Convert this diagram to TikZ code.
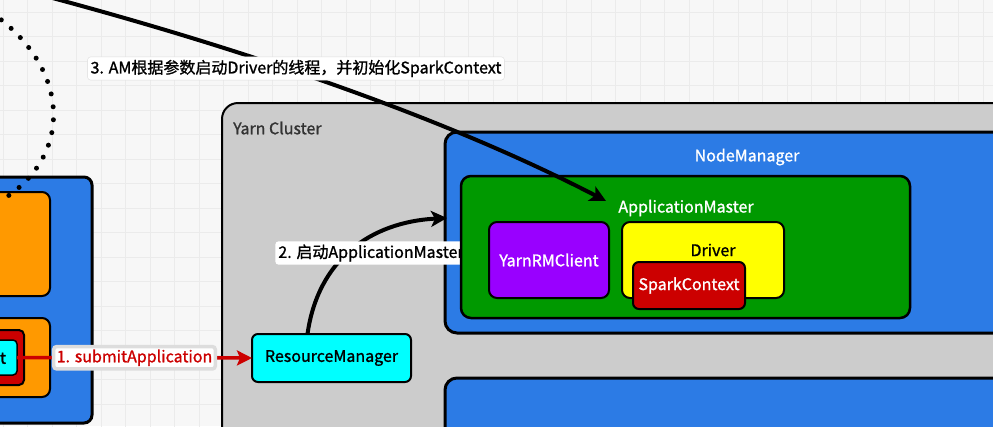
\documentclass[tikz,border=0pt]{standalone}
\usepackage{fontspec}
\setmainfont{Noto Sans CJK SC}[BoldFont=*, BoldFeatures={FakeBold=1.2}]
\usetikzlibrary{arrows.meta}
\definecolor{bgc}{HTML}{F7F7F7}
\definecolor{gridc}{HTML}{EBEBEB}
\definecolor{bluec}{HTML}{2C7BE5}
\definecolor{greenc}{HTML}{009900}
\definecolor{purplec}{HTML}{9900FF}
\definecolor{yellowc}{HTML}{FFFF00}
\definecolor{redc}{HTML}{CC0000}
\definecolor{cyanc}{HTML}{00FFFF}
\definecolor{orangec}{HTML}{FF9900}
\definecolor{grayc}{HTML}{CCCCCC}
\definecolor{labelborder}{HTML}{DDDDDD}
\definecolor{darktext}{HTML}{333333}
\tikzset{
  box/.style={draw=black, rounded corners=8pt, inner sep=0pt, outer sep=0pt},
  txt/.style={font=\fontsize{16}{19}\selectfont\bfseries, inner sep=0pt},
  edgelabel/.style={fill=white, draw=labelborder, rounded corners=3pt, inner sep=3pt, font=\fontsize{16}{19}\selectfont\bfseries},
  thickarrow/.style={line width=4pt, -{Stealth[length=16pt,width=16pt,inset=4pt]}},
}
\begin{document}
\begin{tikzpicture}[x=1pt,y=-1pt]
\useasboundingbox (0,0) rectangle (993,426);
\clip (0,0) rectangle (993,426);
% background
\fill[bgc] (0,0) rectangle (993,426);
\draw[gridc, line width=1pt, xshift=3pt, yshift=-12pt] (-24.5,-24.5) grid[step=24.5pt] (1020,450);

% left client host
\node[box, fill=bluec, line width=3pt, minimum width=140pt, minimum height=246pt] (host) at (22,300) {};
\node[box, fill=orangec, line width=2pt, minimum width=90pt, minimum height=104pt] (orangeA) at (5,244) {};
\node[box, fill=orangec, line width=2pt, minimum width=90pt, minimum height=79pt] (orangeB) at (5,357.5) {};
\node[box, fill=redc, line width=2pt, minimum width=60pt, minimum height=55pt, rounded corners=5pt] (redbox) at (-6,357.5) {};
\node[box, fill=cyanc, line width=1.5pt, minimum height=35pt, rounded corners=4pt, anchor=east, txt, inner xsep=11pt] (client) at (17,357.5) {Client};

% dotted curve
\coordinate (dotstart) at (-20,5);
\coordinate (dotend) at (8,196);
\draw[line width=5pt, dash pattern=on 0pt off 13pt, line cap=round] (dotstart) .. controls (70,60) and (75,150) .. (dotend);

% Yarn cluster
\node[box, fill=grayc, line width=2pt, rounded corners=16pt, minimum width=880pt, minimum height=400pt] (yarn) at (662,303) {};
\node[txt, anchor=west, text=darktext] (yarnlabel) at (233,128) {Yarn Cluster};

% NodeManagers
\node[box, fill=bluec, line width=3pt, rounded corners=12pt, minimum width=640pt, minimum height=201pt] (nm) at (765,232.5) {};
\node[txt, text=white] (nmlabel) at (747,157) {NodeManager};
\node[box, fill=bluec, line width=3pt, rounded corners=12pt, minimum width=640pt, minimum height=150pt] (nm2) at (765,453) {};

% ResourceManager
\node[box, fill=cyanc, line width=2pt, rounded corners=6pt, minimum width=159pt, minimum height=48pt, txt] (rm) at (331.5,358) {ResourceManager};

% arrow 2
\coordinate (amentry) at (447,218);
\draw[thickarrow] ([xshift=-24pt]rm.north) .. controls (318,260) and (370,222) .. (amentry);
\node[edgelabel, draw=none, inner sep=3pt] (lbl2) at (371,253) {2. 启动ApplicationMaster};

% ApplicationMaster
\node[box, fill=greenc, line width=2.5pt, rounded corners=10pt, minimum width=449pt, minimum height=142pt] (am) at (685.5,247) {};
\node[txt, text=white] (amlabel) at (686,208) {ApplicationMaster};
\node[box, fill=purplec, line width=2pt, minimum width=120pt, minimum height=76pt, txt, text=white] (yrm) at (549,260) {YarnRMClient};
\node[box, fill=yellowc, line width=2pt, minimum width=162pt, minimum height=76pt] (driver) at (703,260) {};
\node[txt] (driverlabel) at (713,250) {Driver};
\node[box, fill=redc, line width=2pt, rounded corners=6pt, minimum width=112pt, minimum height=47pt, txt, text=white] (sc) at (689,285.5) {SparkContext};

% arrow 1
\draw[redc, line width=3.5pt, -{Stealth[length=15pt,width=15pt,inset=3pt]}] (client.east) -- (rm.west)
  node[edgelabel, text=redc, midway] (lbl1) {1. submitApplication};

% arrow 3
\coordinate (drvstart) at (30,-8);
\coordinate (drvend) at (606,201);
\draw[thickarrow] (drvstart) .. controls (250,50) and (450,120) .. (drvend);
\node[edgelabel] (lbl3) at (296,68.5) {3. AM根据参数启动Driver的线程，并初始化SparkContext};
\end{tikzpicture}
\end{document}
